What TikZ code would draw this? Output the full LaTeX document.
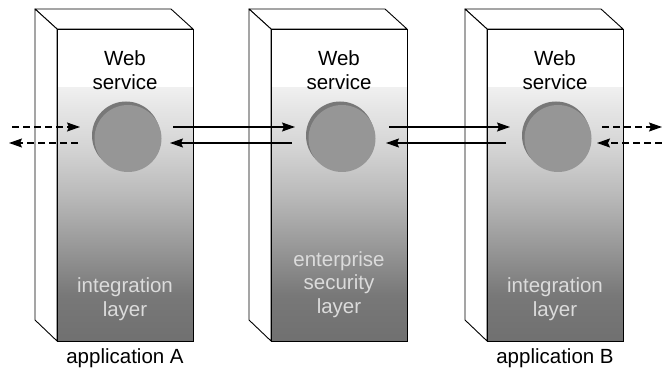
\documentclass[tikz,border=0pt]{standalone}
\usepackage{fontspec}
\setmainfont{Liberation Sans}
\usetikzlibrary{arrows.meta}

% vertical fill of the layer part of each front face (bottom -> top);
% the filled path spans 25bp..75bp of the shading
\definecolor{lay0}{gray}{0.44}
\definecolor{lay1}{gray}{0.47}
\definecolor{lay2}{gray}{0.60}
\definecolor{lay3}{gray}{0.73}
\definecolor{lay4}{gray}{0.83}
\definecolor{lay5}{gray}{0.90}
\definecolor{lay6}{gray}{0.94}
\pgfdeclareverticalshading{layerfill}{100bp}{
  color(0bp)=(lay0); color(25bp)=(lay0); color(34bp)=(lay1);
  color(44bp)=(lay2); color(54bp)=(lay3); color(63bp)=(lay4);
  color(71bp)=(lay5); color(75bp)=(lay6); color(100bp)=(lay6)}
\definecolor{ballcol}{gray}{0.59}
\definecolor{balledge}{gray}{0.47}
\definecolor{paletext}{gray}{0.86}

\tikzset{
  face/.style={draw=black, line width=0.9pt, fill=white, line join=round},
  edge/.style={draw=black, line width=0.9pt},
  title/.style={font=\fontsize{20.5}{24}\selectfont, anchor=base, inner sep=0pt},
  layertext/.style={title, text=paletext},
  arr/.style={line width=1.2pt, -{Stealth[length=13pt,width=9pt,inset=2pt]}},
  dasharr/.style={arr, dash pattern=on 7pt off 4pt}
}

% one tier: #1 = front-left x, #2 = name of the web-service ball
\newcommand{\tier}[2]{%
  \path[face] (#1-22,9) -- (#1+136-22,9) -- (#1+136,29) -- (#1,29) -- cycle;
  \path[face] (#1-22,9) -- (#1,29) -- (#1,341) -- (#1-22,320) -- cycle;
  \path[fill=white] (#1,29) rectangle (#1+136,88);
  \shade[shading=layerfill] (#1,88) rectangle (#1+136,341);
  \draw[edge] (#1,29) rectangle (#1+136,341);
  % web-service ball with a darker rim at its upper left
  \fill[balledge] (#1+69,135.5) circle (34);
  \fill[ballcol] (#1+71,138.5) circle (33.5);
  \node[circle, minimum size=68pt, inner sep=0pt] (#2) at (#1+70,137.5) {};
}

\begin{document}
\begin{tikzpicture}[x=1pt, y=-1pt]
  \useasboundingbox (0,0) rectangle (662,374);
  \fill[white] (0,0) rectangle (662,374);

  \tier{57}{wsA}
  \tier{271}{wsS}
  \tier{487}{wsB}

  % tier captions
  \node[title] (webA1) at (125,66) {Web};
  \node[title] (webA2) at (125,90) {service};
  \node[title] (webS1) at (339,66) {Web};
  \node[title] (webS2) at (339,90) {service};
  \node[title] (webB1) at (555,66) {Web};
  \node[title] (webB2) at (555,90) {service};

  \node[layertext] (intA1) at (125,293) {integration};
  \node[layertext] (intA2) at (125,317) {layer};
  \node[layertext] (sec1) at (339,267) {enterprise};
  \node[layertext] (sec2) at (339,290) {security};
  \node[layertext] (sec3) at (339,314) {layer};
  \node[layertext] (intB1) at (555,293) {integration};
  \node[layertext] (intB2) at (555,317) {layer};

  \node[title] (appA) at (125,363) {application A};
  \node[title] (appB) at (555,363) {application B};

  % outside connections
  \coordinate (extAin) at (12,127);
  \coordinate (extAout) at (9,143);
  \coordinate (extBout) at (662,127);
  \coordinate (extBin) at (662,143);

  \draw[dasharr] (extAin) -- ([shift={(-47,-10.5)}]wsA.center);
  \draw[dasharr] ([shift={(-49,5.5)}]wsA.center) -- (extAout);
  \draw[dasharr] ([shift={(45,-10.5)}]wsB.center) -- (extBout);
  \draw[dasharr] (extBin) -- ([shift={(40,5.5)}]wsB.center);

  % calls through the security tier
  \draw[arr] ([shift={(46,-10.5)}]wsA.center) -- ([shift={(-46,-10.5)}]wsS.center);
  \draw[arr] ([shift={(-49,5.5)}]wsS.center) -- ([shift={(43,5.5)}]wsA.center);
  \draw[arr] ([shift={(48,-10.5)}]wsS.center) -- ([shift={(-47,-10.5)}]wsB.center);
  \draw[arr] ([shift={(-51,5.5)}]wsB.center) -- ([shift={(45,5.5)}]wsS.center);
\end{tikzpicture}
\end{document}
